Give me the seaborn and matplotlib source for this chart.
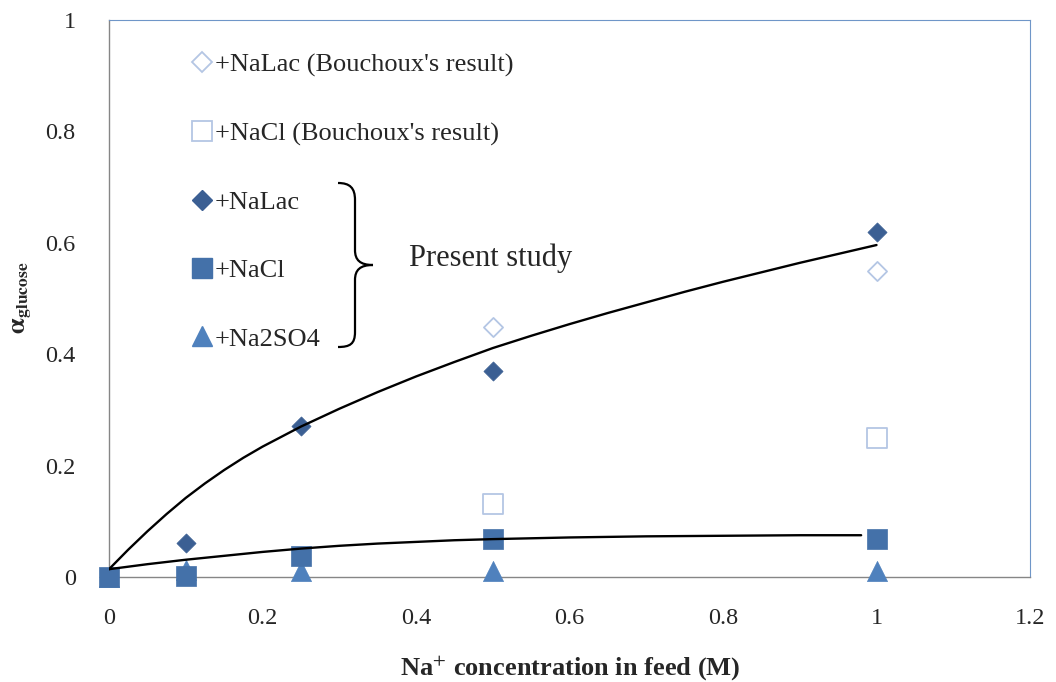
import numpy as np
import pandas as pd
import matplotlib
matplotlib.use("Agg")
import matplotlib.pyplot as plt
import seaborn as sns
from matplotlib.path import Path
from matplotlib.patches import PathPatch
from matplotlib.lines import Line2D

# ---------------- data ----------------
x_nalac = [0.0, 0.1, 0.25, 0.5, 1.0]
y_nalac = [0.0, 0.061, 0.271, 0.37, 0.619]

x_nacl = [0.0, 0.1, 0.25, 0.5, 1.0]
y_nacl = [0.0, 0.002, 0.038, 0.068, 0.068]

x_na2so4 = [0.0, 0.1, 0.25, 0.5, 1.0]
y_na2so4 = [0.0, 0.012, 0.011, 0.011, 0.011]

x_bou_nalac = [0.5, 1.0]
y_bou_nalac = [0.449, 0.549]

x_bou_nacl = [0.5, 1.0]
y_bou_nacl = [0.131, 0.25]

# trend curves
curve1_x = [0.0, 0.025, 0.05, 0.075, 0.1, 0.125, 0.15, 0.175, 0.2, 0.25, 0.3, 0.35, 0.4,
            0.45, 0.5, 0.55, 0.6, 0.65, 0.7, 0.75, 0.8, 0.85, 0.9, 0.95, 1.0]
curve1_y = [0.014, 0.049, 0.082, 0.113, 0.142, 0.168, 0.192, 0.214, 0.234, 0.270, 0.302,
            0.332, 0.360, 0.386, 0.411, 0.433, 0.454, 0.474, 0.493, 0.512, 0.530, 0.547,
            0.564, 0.580, 0.596]
curve2_x = [0.0, 0.05, 0.1, 0.15, 0.2, 0.25, 0.3, 0.35, 0.4, 0.45, 0.5,
            0.6, 0.7, 0.8, 0.9, 0.98]
curve2_y = [0.014, 0.023, 0.031, 0.038, 0.045, 0.051, 0.056, 0.060, 0.063, 0.066, 0.068,
            0.071, 0.073, 0.074, 0.075, 0.075]

x_ticks = [0, 0.2, 0.4, 0.6, 0.8, 1, 1.2]
x_ticklabels = ["0", "0.2", "0.4", "0.6", "0.8", "1", "1.2"]
y_ticks = [0, 0.2, 0.4, 0.6, 0.8, 1]
y_ticklabels = ["0", "0.2", "0.4", "0.6", "0.8", "1"]

labels = ["+NaLac (Bouchoux's result)", "+NaCl (Bouchoux's result)",
          "+NaLac", "+NaCl", "+Na2SO4"]

# ---------------- style ----------------
sns.set_style("white")
plt.rcParams["font.family"] = ["Liberation Serif", "DejaVu Serif"]
plt.rcParams["mathtext.fontset"] = "stix"

W, H = 1056, 682
fig = plt.figure(figsize=(W / 100, H / 100), dpi=100)
ax = fig.add_axes([109 / W, 1 - 577 / H, (1030 - 109) / W, (577 - 20) / H])

c_dia = "#3B5F93"
c_sq = "#4471A9"
c_tri = "#4F81BD"
c_open = "#B4C6E4"

sns.scatterplot(x=x_bou_nalac, y=y_bou_nalac, marker="D", s=95, color="white",
                edgecolor=c_open, linewidth=1.3, ax=ax, clip_on=False, zorder=3)
sns.scatterplot(x=x_bou_nacl, y=y_bou_nacl, marker="s", s=200, color="white",
                edgecolor=c_open, linewidth=1.3, ax=ax, clip_on=False, zorder=3)
sns.scatterplot(x=x_nalac, y=y_nalac, marker="D", s=95, color=c_dia,
                edgecolor=c_dia, linewidth=0.5, ax=ax, clip_on=False, zorder=3)
sns.scatterplot(x=x_na2so4, y=y_na2so4, marker="^", s=210, color=c_tri,
                edgecolor=c_tri, linewidth=0.5, ax=ax, clip_on=False, zorder=3)
sns.scatterplot(x=x_nacl, y=y_nacl, marker="s", s=200, color=c_sq,
                edgecolor=c_sq, linewidth=0.5, ax=ax, clip_on=False, zorder=4)

sns.lineplot(x=curve1_x, y=curve1_y, color="black", linewidth=1.7, ax=ax,
             legend=False, zorder=5, sort=False)
sns.lineplot(x=curve2_x, y=curve2_y, color="black", linewidth=1.7, ax=ax,
             legend=False, zorder=5, sort=False)

ax.set_xlim(0, 1.2)
ax.set_ylim(0, 1)
ax.set_xticks(x_ticks)
ax.set_xticklabels(x_ticklabels)
ax.set_yticks(y_ticks)
ax.set_yticklabels(y_ticklabels)
ax.tick_params(axis="both", which="major", labelsize=17.5, length=5,
               width=1, color="#868686", direction="out")
ax.tick_params(axis="x", pad=17)
ax.tick_params(axis="y", pad=19)
ax.set_xlabel("")
ax.set_ylabel("")

for s in ["left", "bottom"]:
    ax.spines[s].set_color("#868686")
    ax.spines[s].set_linewidth(1.0)
for s in ["top", "right"]:
    ax.spines[s].set_color("#6F96C8")
    ax.spines[s].set_linewidth(0.8)

# legend
handles = [
    Line2D([], [], ls="none", marker="D", markersize=9.7, markerfacecolor="white",
           markeredgecolor=c_open, markeredgewidth=1.3),
    Line2D([], [], ls="none", marker="s", markersize=14, markerfacecolor="white",
           markeredgecolor=c_open, markeredgewidth=1.3),
    Line2D([], [], ls="none", marker="D", markersize=9.7, markerfacecolor=c_dia,
           markeredgecolor=c_dia),
    Line2D([], [], ls="none", marker="s", markersize=14, markerfacecolor=c_sq,
           markeredgecolor=c_sq),
    Line2D([], [], ls="none", marker="^", markersize=14.5, markerfacecolor=c_tri,
           markeredgecolor=c_tri),
]
leg = fig.legend(handles, labels, loc="upper left",
                 bbox_to_anchor=(188.7 / W, 1 - 53 / H), frameon=False,
                 fontsize=19, handlelength=1.0, handletextpad=0.0,
                 labelspacing=1.70, borderpad=0, borderaxespad=0)

# brace
def P(x, y):
    return (x / W, 1 - y / H)

verts = [P(338, 183), P(350, 183), P(355, 188), P(355, 200),
         P(355, 250),
         P(355, 260), P(360, 265), P(373, 265),
         P(360, 265), P(355, 270), P(355, 280),
         P(355, 332),
         P(355, 344), P(350, 347), P(338, 347)]
codes = [Path.MOVETO, Path.CURVE4, Path.CURVE4, Path.CURVE4,
         Path.LINETO,
         Path.CURVE4, Path.CURVE4, Path.CURVE4,
         Path.CURVE4, Path.CURVE4, Path.CURVE4,
         Path.LINETO,
         Path.CURVE4, Path.CURVE4, Path.CURVE4]
fig.add_artist(PathPatch(Path(verts, codes), facecolor="none", edgecolor="black",
                         linewidth=1.6, transform=fig.transFigure))

fig.text(409 / W, 1 - 258 / H, "Present study", fontsize=22, ha="left", va="center")

fig.text(570 / W, 1 - 668 / H, "Na$^{+}$ concentration in feed (M)", fontsize=19,
         fontweight="bold", ha="center", va="center")
fig.text(22 / W, 1 - 298 / H, r"$\mathbf{\alpha}_{\mathbf{glucose}}$", fontsize=18,
         rotation=90, ha="center", va="center")

fig.savefig("out.png", dpi=100)
